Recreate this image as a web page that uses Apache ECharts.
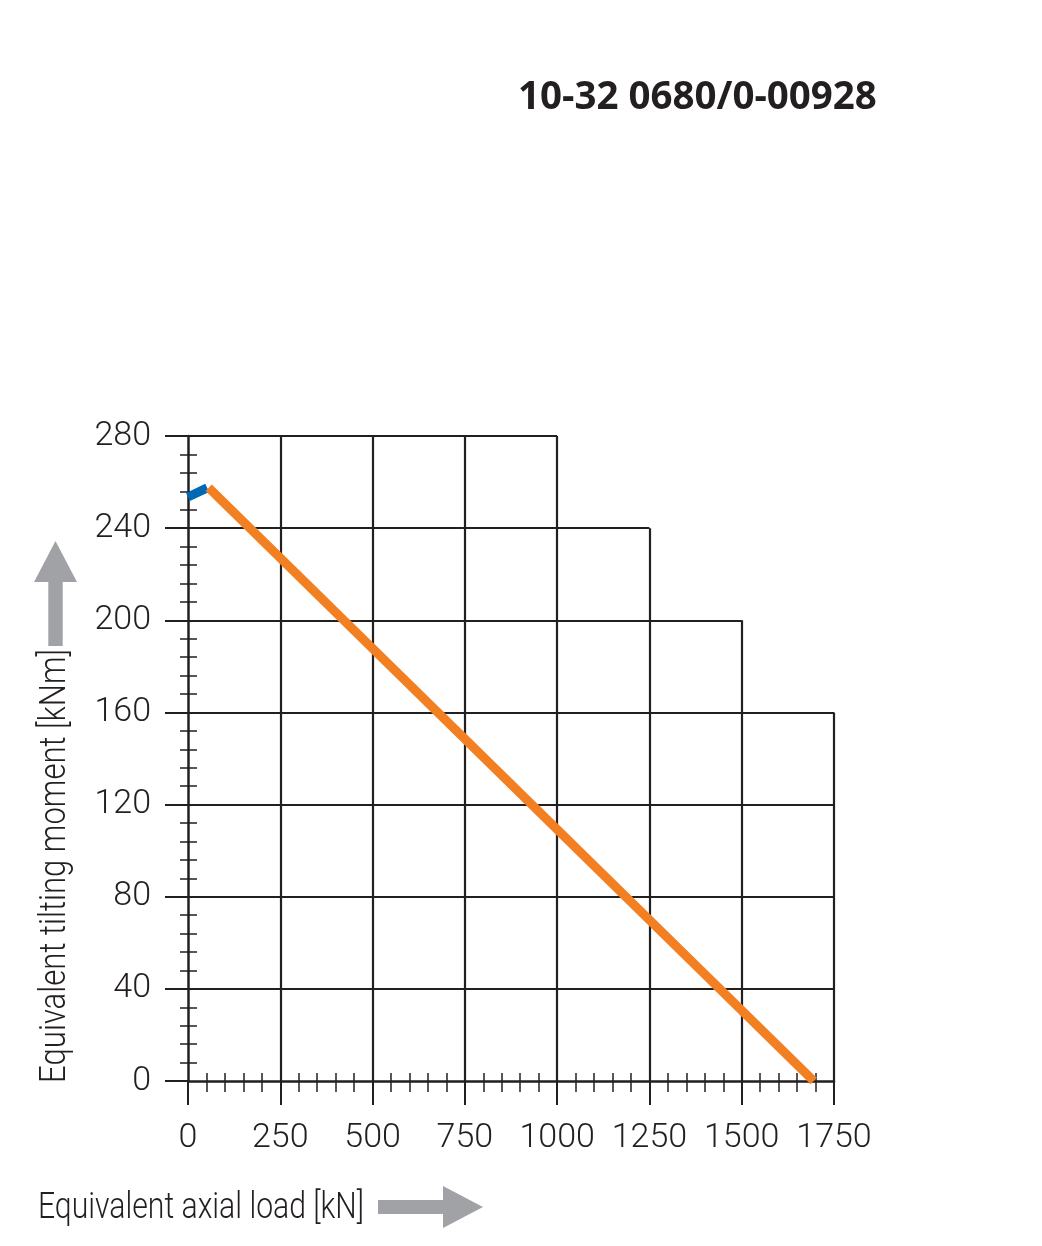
<!DOCTYPE html>
<html lang="en">
<head>
<meta charset="UTF-8">
<title>10-32 0680/0-00928</title>
<script src="https://cdn.jsdelivr.net/npm/echarts@6/dist/echarts.min.js"></script>
<style>
    html, body { margin: 0; padding: 0; background: #fff; }
    #chart { width: 1042px; height: 1246px; }
</style>
</head>
<body>
<div id="chart"></div>
<script type="text/javascript">

    // axis ticks and the stepped outline of the grid
    var xTicks = [0, 250, 500, 750, 1000, 1250, 1500, 1750];
    var colTop = [280, 280, 280, 280, 280, 240, 200, 160];
    var yTicks = [0, 40, 80, 120, 160, 200, 240, 280];
    var rowEnd = [1750, 1750, 1750, 1750, 1750, 1500, 1250, 1000];

    // curves [axial load kN, tilting moment kNm]
    var blueLine = [[0, 253.5], [52, 257.5]];
    var orangeLine = [[56, 257.5], [1695, 0]];

    var ink = '#231f20';
    var thin = 'Roboto, "DejaVu Sans Condensed", sans-serif';

    var gridSegs = [];
    xTicks.forEach(function (x, i) {
        if (i > 0) gridSegs.push({coords: [[x, 0], [x, colTop[i]]]});
    });
    yTicks.forEach(function (y, i) {
        if (i > 0) gridSegs.push({coords: [[0, y], [rowEnd[i], y]]});
    });

    var myChart = echarts.init(document.getElementById('chart'));

    function xAxisBase(extra) {
        var a = {
            type: 'value',
            position: 'bottom',
            min: xTicks[0],
            max: xTicks[xTicks.length - 1],
            interval: 250,
            splitLine: {show: false}
        };
        for (var k in extra) a[k] = extra[k];
        return a;
    }
    function yAxisBase(extra) {
        var a = {
            type: 'value',
            position: 'left',
            min: yTicks[0],
            max: yTicks[yTicks.length - 1],
            interval: 40,
            splitLine: {show: false}
        };
        for (var k in extra) a[k] = extra[k];
        return a;
    }

    var tickFont = {fontSize: 34, fontFamily: thin, fontWeight: 300, color: ink};

    var option = {
        animation: false,
        backgroundColor: '#fff',
        grid: {left: 188, right: 208, top: 436, bottom: 165, containLabel: false},
        xAxis: [
            xAxisBase({
                axisLine: {lineStyle: {color: ink, width: 2.5}},
                axisTick: {length: 24, lineStyle: {color: ink, width: 2}},
                minorTick: {show: true, splitNumber: 5, length: 11, lineStyle: {color: ink, width: 1.5}},
                axisLabel: Object.assign({
                    margin: 40,
                    showMaxLabel: true,
                    hideOverlap: false,
                    formatter: function (v) { return String(v); }
                }, tickFont)
            }),
            xAxisBase({
                axisLine: {show: false},
                axisTick: {show: false, inside: true},
                minorTick: {show: true, splitNumber: 5, length: 8, lineStyle: {color: ink, width: 1.5}},
                axisLabel: {show: false}
            })
        ],
        yAxis: [
            yAxisBase({
                axisLine: {lineStyle: {color: ink, width: 2.5}},
                axisTick: {length: 23, lineStyle: {color: ink, width: 2}},
                minorTick: {show: true, splitNumber: 5, length: 8, lineStyle: {color: ink, width: 1.5}},
                axisLabel: Object.assign({margin: 37, showMaxLabel: true, padding: [10, 0, 0, 0]}, tickFont)
            }),
            yAxisBase({
                axisLine: {show: false},
                axisTick: {show: false, inside: true},
                minorTick: {show: true, splitNumber: 5, length: 9, lineStyle: {color: ink, width: 1.5}},
                axisLabel: {show: false}
            })
        ],
        series: [
            {
                type: 'lines',
                coordinateSystem: 'cartesian2d',
                silent: true,
                z: 1,
                data: gridSegs,
                lineStyle: {color: ink, width: 2.2, opacity: 1}
            },
            {
                type: 'line',
                z: 3,
                silent: true,
                showSymbol: false,
                data: blueLine,
                lineStyle: {color: '#0068b4', width: 9, cap: 'butt'}
            },
            {
                type: 'line',
                z: 3,
                silent: true,
                showSymbol: false,
                data: orangeLine,
                lineStyle: {color: '#f27f22', width: 9, cap: 'butt'}
            }
        ],
        graphic: [
            {
                type: 'text',
                left: 518,
                top: 79,
                style: {
                    text: '10-32 0680/0-00928',
                    fontSize: 38.5,
                    fontWeight: 'bold',
                    fontFamily: '"Open Sans", "Noto Sans", sans-serif',
                    fill: ink
                }
            },
            {
                type: 'text',
                x: 56,
                y: 866,
                rotation: Math.PI / 2,
                scaleX: 0.84,
                style: {
                    text: 'Equivalent tilting moment [kNm]',
                    fontSize: 37,
                    fontFamily: thin,
                    fontWeight: 300,
                    fill: ink,
                    align: 'center',
                    verticalAlign: 'middle'
                }
            },
            {
                type: 'text',
                x: 38,
                y: 1209,
                scaleX: 0.815,
                style: {
                    text: 'Equivalent axial load [kN]',
                    fontSize: 37,
                    fontFamily: thin,
                    fontWeight: 300,
                    fill: ink,
                    align: 'left',
                    verticalAlign: 'middle'
                }
            },
            {
                // arrow next to the y axis name
                type: 'polygon',
                shape: {points: [[48.3, 646], [62.7, 646], [62.7, 582], [77, 582], [55.5, 541], [34, 582], [48.3, 582]]},
                style: {fill: '#a1a2a5'}
            },
            {
                // arrow next to the x axis name
                type: 'polygon',
                shape: {points: [[378, 1200], [443, 1200], [443, 1186], [483, 1207], [443, 1228], [443, 1214], [378, 1214]]},
                style: {fill: '#a1a2a5'}
            }
        ]
    };

    myChart.setOption(option);
</script>
</body>
</html>
